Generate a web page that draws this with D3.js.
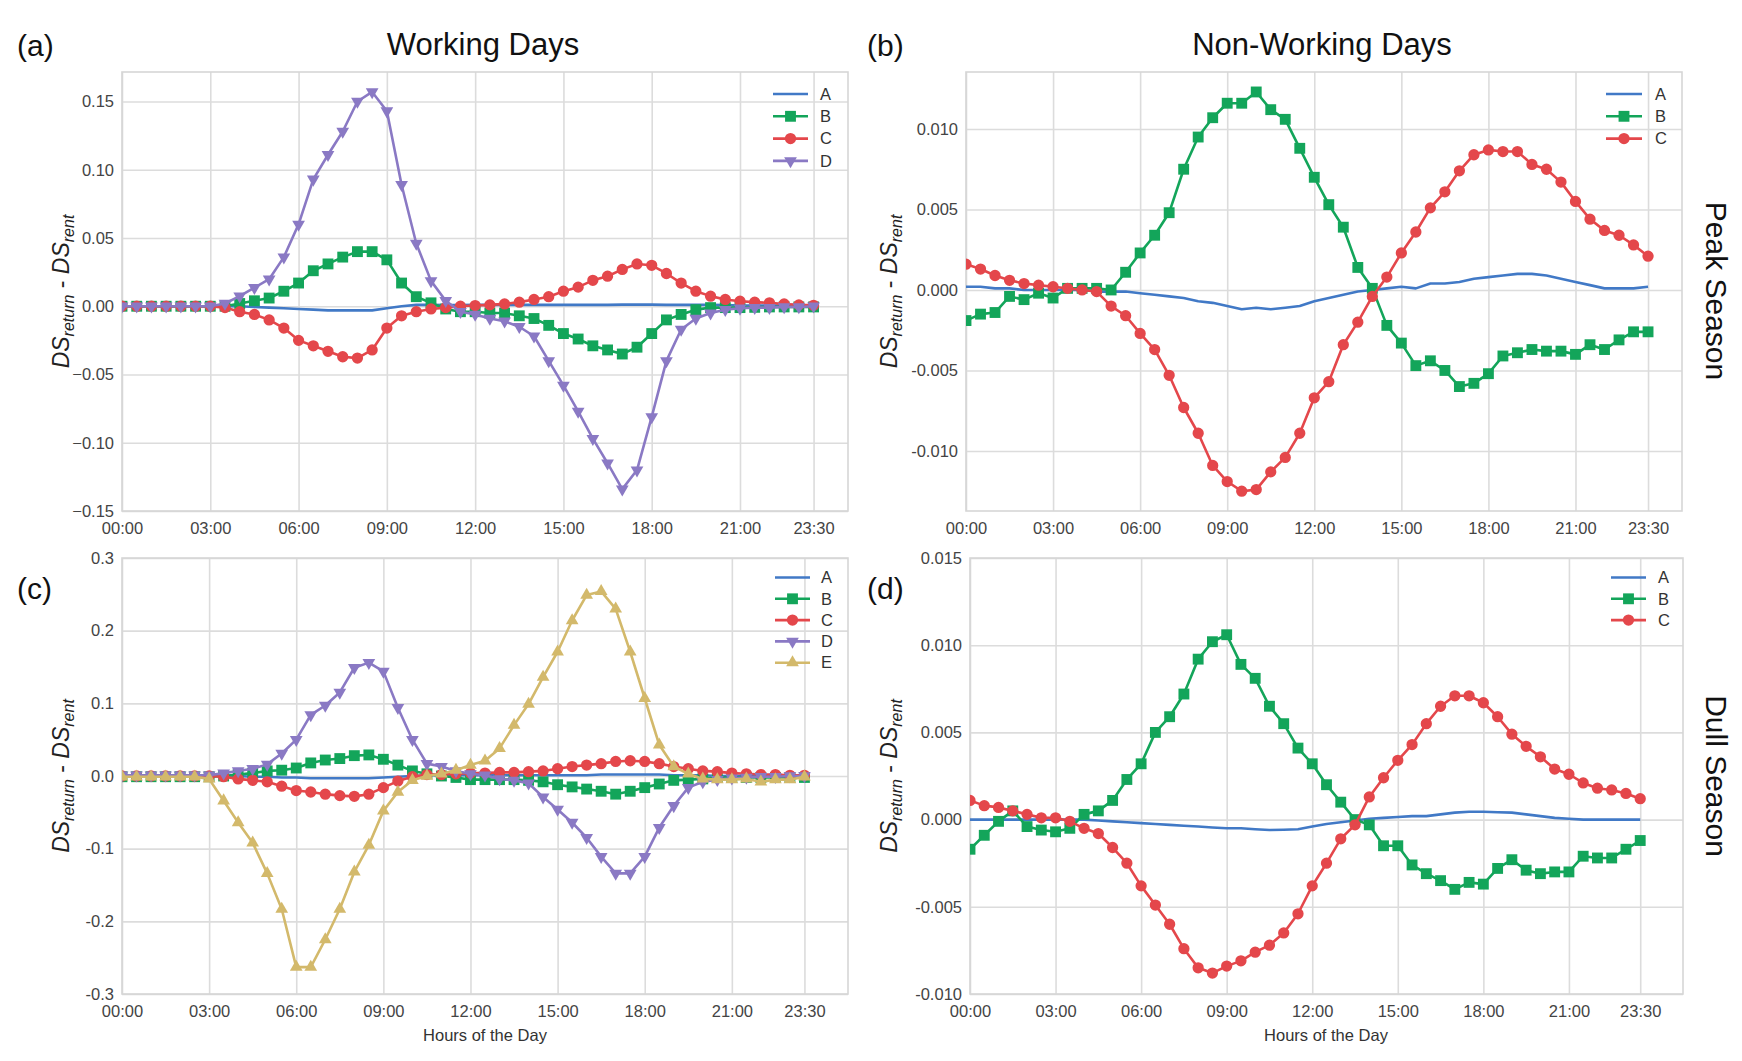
<!DOCTYPE html>
<html>
<head>
<meta charset="utf-8">
<script src="https://cdn.jsdelivr.net/npm/d3@7"></script>
<style>
  body { margin: 0; background: #fff; }
  svg { display: block; font-family: "Liberation Sans", Arial, sans-serif; }
  .axis text { font-family: "Liberation Sans", Arial, sans-serif; font-size: 16.5px; fill: #444; }
  .axis line { stroke: #dcdcdc; stroke-width: 1.6; }
  .axis .domain { display: none; }
</style>
</head>
<body>
<svg id="chart"></svg>
<script>
// Half-hour time slots of the day (in hours)
const hours = [0, 0.5, 1, 1.5, 2, 2.5, 3, 3.5, 4, 4.5, 5, 5.5, 6, 6.5, 7, 7.5, 8, 8.5, 9, 9.5,
  10, 10.5, 11, 11.5, 12, 12.5, 13, 13.5, 14, 14.5, 15, 15.5, 16, 16.5, 17, 17.5, 18, 18.5, 19, 19.5,
  20, 20.5, 21, 21.5, 22, 22.5, 23, 23.5];
const xTickHours = [0, 3, 6, 9, 12, 15, 18, 21, 23.5];
const xTickLabels = ['00:00', '03:00', '06:00', '09:00', '12:00', '15:00', '18:00', '21:00', '23:30'];

// (a) Working days, peak season
const aA = [0, 0, 0, 0, 0, 0, 0, 0, 0, -0.0005, -0.001, -0.0015, -0.002, -0.0025, -0.003, -0.003, -0.003, -0.003, -0.0015, 0,
  0.001, 0.001, 0.0008, 0.0008, 0.001, 0.001, 0.001, 0.001, 0.001, 0.001, 0.001, 0.001, 0.001, 0.001, 0.0012, 0.0012, 0.0012, 0.001, 0.001, 0.001,
  0.001, 0.0008, 0.0005, 0.0005, 0.0005, 0.0005, 0.0005, 0.0005];
const aB = [0, 0, 0, 0, 0, 0, 0, 0, 0.002, 0.004, 0.006, 0.011, 0.017, 0.026, 0.031, 0.036, 0.040, 0.040, 0.034, 0.017,
  0.007, 0.0025, -0.002, -0.004, -0.004, -0.005, -0.005, -0.007, -0.009, -0.014, -0.020, -0.024, -0.029, -0.032, -0.035, -0.030, -0.020, -0.010, -0.006, -0.0025,
  -0.001, -0.001, -0.001, -0.0008, -0.0005, -0.0005, -0.0005, -0.0005];
const aC = [0, 0, 0, 0, 0, 0, 0, -0.001, -0.004, -0.006, -0.010, -0.016, -0.025, -0.029, -0.033, -0.037, -0.038, -0.032, -0.016, -0.007,
  -0.004, -0.002, -0.001, 0, 0.0005, 0.001, 0.0017, 0.003, 0.005, 0.007, 0.011, 0.014, 0.019, 0.022, 0.027, 0.031, 0.030, 0.024, 0.017, 0.011,
  0.0074, 0.005, 0.0037, 0.003, 0.0025, 0.0017, 0.001, 0.0007];
const aD = [0, 0, 0, 0, 0, 0, 0, 0.002, 0.0074, 0.0136, 0.0198, 0.036, 0.060, 0.093, 0.111, 0.128, 0.150, 0.157, 0.143, 0.089,
  0.046, 0.0186, 0.004, -0.004, -0.006, -0.009, -0.011, -0.015, -0.022, -0.040, -0.058, -0.077, -0.097, -0.115, -0.134, -0.120, -0.081, -0.040, -0.017, -0.009,
  -0.005, -0.0025, -0.0015, -0.001, -0.001, -0.0005, -0.0005, 0];

// (b) Non-working days, peak season
const bA = [0.0002, 0.0002, 0.0001, 0.0001, 0, 0, 0, 0, 0, -0.0001, -0.0001, -0.0001, -0.0002, -0.0003, -0.0004, -0.0005, -0.0007, -0.0008, -0.0010, -0.0012,
  -0.0011, -0.0012, -0.0011, -0.0010, -0.0007, -0.0005, -0.0003, -0.0001, 0, 0.0001, 0.0002, 0.0001, 0.0004, 0.0004, 0.0005, 0.0007, 0.0008, 0.0009, 0.0010, 0.0010,
  0.0009, 0.0007, 0.0005, 0.0003, 0.0001, 0.0001, 0.0001, 0.0002];
const bB = [-0.0019, -0.0015, -0.0014, -0.0004, -0.0006, -0.0002, -0.0005, 0.0001, 0.0001, 0.0001, 0.0000, 0.0011, 0.0023, 0.0034, 0.0048, 0.0075, 0.0095, 0.0107, 0.0116, 0.0116,
  0.0123, 0.0112, 0.0106, 0.0088, 0.0070, 0.0053, 0.0039, 0.0014, 0.0001, -0.0022, -0.0033, -0.0047, -0.0044, -0.0050, -0.0060, -0.0058, -0.0052, -0.0041, -0.0039, -0.0037,
  -0.0038, -0.0038, -0.0040, -0.0034, -0.0037, -0.0031, -0.0026, -0.0026];
const bC = [0.0016, 0.0013, 0.0009, 0.0006, 0.0004, 0.0003, 0.0002, 0.0001, 0.0000, -0.0001, -0.0010, -0.0016, -0.0027, -0.0037, -0.0053, -0.0073, -0.0089, -0.0109, -0.0119, -0.0125,
  -0.0124, -0.0113, -0.0104, -0.0089, -0.0067, -0.0057, -0.0034, -0.0020, -0.0004, 0.0008, 0.0023, 0.0036, 0.0051, 0.0061, 0.0074, 0.0084, 0.0087, 0.0086, 0.0086, 0.0078,
  0.0075, 0.0067, 0.0055, 0.0044, 0.0037, 0.0034, 0.0028, 0.0021];

// (c) Working days, dull season
const cA = [0, 0, 0, 0, 0, 0, 0, 0, 0, -0.001, -0.001, -0.002, -0.002, -0.003, -0.003, -0.003, -0.003, -0.003, -0.002, -0.001,
  0, 0.001, 0.001, 0.001, 0.001, 0.001, 0.001, 0.001, 0.001, 0.001, 0.001, 0.001, 0.001, 0.002, 0.002, 0.002, 0.002, 0.002, 0.001, 0.001,
  0.001, 0, 0, 0, 0, 0, 0, 0];
const cB = [-0.001, -0.001, -0.001, -0.001, -0.001, -0.001, -0.001, 0, 0.002, 0.004, 0.007, 0.008, 0.011, 0.018, 0.022, 0.024, 0.028, 0.029, 0.023, 0.015,
  0.007, 0.003, 0, -0.002, -0.005, -0.005, -0.005, -0.005, -0.006, -0.008, -0.012, -0.015, -0.018, -0.021, -0.025, -0.021, -0.016, -0.011, -0.006, -0.005,
  -0.004, -0.002, -0.002, -0.002, -0.002, -0.002, -0.002, -0.002];
const cC = [0, 0, 0, 0, 0, 0, 0, -0.001, -0.004, -0.006, -0.008, -0.014, -0.020, -0.022, -0.025, -0.027, -0.028, -0.025, -0.016, -0.007,
  -0.001, 0.002, 0.002, 0.003, 0.004, 0.004, 0.005, 0.005, 0.006, 0.007, 0.010, 0.013, 0.015, 0.017, 0.020, 0.021, 0.020, 0.017, 0.013, 0.010,
  0.007, 0.006, 0.004, 0.003, 0.002, 0.002, 0.001, 0.001];
const cD = [0.001, 0.001, 0.001, 0.001, 0.001, 0.001, 0.001, 0.004, 0.007, 0.010, 0.016, 0.031, 0.050, 0.084, 0.097, 0.115, 0.149, 0.156, 0.144, 0.094,
  0.050, 0.017, 0.013, 0.007, 0.003, 0.001, -0.004, -0.006, -0.010, -0.029, -0.046, -0.064, -0.085, -0.111, -0.134, -0.134, -0.111, -0.071, -0.041, -0.016,
  -0.008, -0.005, -0.003, -0.002, -0.001, -0.001, 0, 0];
const cE = [-0.001, -0.001, -0.001, -0.001, -0.001, -0.001, -0.004, -0.034, -0.064, -0.092, -0.134, -0.183, -0.263, -0.263, -0.225, -0.183, -0.132, -0.095, -0.048, -0.022,
  -0.006, 0.000, 0.003, 0.008, 0.015, 0.021, 0.038, 0.070, 0.099, 0.136, 0.171, 0.214, 0.249, 0.254, 0.230, 0.171, 0.107, 0.043, 0.013, 0.003,
  -0.004, -0.005, -0.005, -0.004, -0.008, -0.005, -0.005, -0.001];

// (d) Non-working days, dull season
const dA = [0, 0, 0, 0, 0, 0, 0, 0, 0, -0.00005, -0.0001, -0.00015, -0.0002, -0.00025, -0.0003, -0.00035, -0.0004, -0.00045, -0.0005, -0.0005,
  -0.00055, -0.0006, -0.00058, -0.00055, -0.0004, -0.00025, -0.00015, -0.00005, 0.00005, 0.0001, 0.00015, 0.0002, 0.0002, 0.0003, 0.0004, 0.00045, 0.00045, 0.00042, 0.0004, 0.0003,
  0.0002, 0.0001, 0.00005, 0, 0, 0, 0, 0];
const dB = [-0.0017, -0.0009, -0.0001, 0.0005, -0.0004, -0.0006, -0.0007, -0.0005, 0.0003, 0.0005, 0.0011, 0.0023, 0.0032, 0.0050, 0.0059, 0.0072, 0.0092, 0.0102, 0.0106, 0.0089,
  0.0081, 0.0065, 0.0055, 0.0041, 0.0032, 0.0020, 0.0010, 0.0000, -0.0003, -0.0015, -0.0015, -0.0026, -0.0031, -0.0035, -0.0040, -0.0036, -0.0037, -0.0028, -0.0023, -0.0029,
  -0.0031, -0.0030, -0.0030, -0.0021, -0.0022, -0.0022, -0.0017, -0.0012];
const dC = [0.0011, 0.0008, 0.0007, 0.0005, 0.0003, 0.0001, 0.0001, -0.0001, -0.0005, -0.0008, -0.0016, -0.0025, -0.0038, -0.0049, -0.0060, -0.0074, -0.0085, -0.0088, -0.0084, -0.0081,
  -0.0076, -0.0072, -0.0065, -0.0054, -0.0038, -0.0025, -0.0011, -0.0003, 0.0013, 0.0024, 0.0034, 0.0043, 0.0055, 0.0065, 0.0071, 0.0071, 0.0067, 0.0059, 0.0049, 0.0042,
  0.0036, 0.0029, 0.0026, 0.0021, 0.0018, 0.0017, 0.0015, 0.0012];

// y tick values per panel
const yTicksA = [-0.15, -0.10, -0.05, 0, 0.05, 0.10, 0.15];
const yTicksB = [-0.010, -0.005, 0, 0.005, 0.010];
const yTicksC = [-0.3, -0.2, -0.1, 0, 0.1, 0.2, 0.3];
const yTicksD = [-0.010, -0.005, 0, 0.005, 0.010, 0.015];

// Series styling
const style = {
  A: { color: '#4179c6', marker: null },
  B: { color: '#13a55a', marker: 'square' },
  C: { color: '#e4474b', marker: 'circle' },
  D: { color: '#8a79c4', marker: 'down' },
  E: { color: '#d3b96b', marker: 'up' }
};

const W = 1742, H = 1061;
const svg = d3.select('#chart').attr('width', W).attr('height', H);
svg.append('rect').attr('width', W).attr('height', H).attr('fill', '#fff');

const hyphen = f => d => f(d).replace('\u2212', '-');

const panels = [
  { id: 'a', left: 122, right: 848, top: 72, bottom: 511, xMax: 24.67, yDomain: [-0.15, 0.1716],
    yTicks: yTicksA, fmt: d3.format('.2f'), series: { A: aA, B: aB, C: aC, D: aD }, ylabelX: 61,
    legend: { x1: 773, x2: 808, tx: 820, y0: 94, dy: 22.3 } },
  { id: 'b', left: 966, right: 1682, top: 72, bottom: 511, xMax: 24.67, yDomain: [-0.01373, 0.01354],
    yTicks: yTicksB, fmt: hyphen(d3.format('.3f')), series: { A: bA, B: bB, C: bC }, ylabelX: 889,
    legend: { x1: 1606, x2: 1642, tx: 1655, y0: 94, dy: 22.3 } },
  { id: 'c', left: 122, right: 848, top: 558, bottom: 994, xMax: 25, yDomain: [-0.3, 0.3],
    yTicks: yTicksC, fmt: hyphen(d3.format('.1f')), series: { A: cA, B: cB, C: cC, D: cD, E: cE }, ylabelX: 61,
    legend: { x1: 775, x2: 810, tx: 821, y0: 577.5, dy: 21.3 } },
  { id: 'd', left: 970, right: 1683, top: 558, bottom: 994, xMax: 25, yDomain: [-0.010, 0.015],
    yTicks: yTicksD, fmt: hyphen(d3.format('.3f')), series: { A: dA, B: dB, C: dC }, ylabelX: 889,
    legend: { x1: 1611, x2: 1646, tx: 1658, y0: 577.5, dy: 21.3 } }
];

function symbolPath(kind) {
  if (kind === 'square') return d3.symbol(d3.symbolSquare, 118)();
  if (kind === 'circle') return d3.symbol(d3.symbolCircle, 100)();
  return d3.symbol(d3.symbolTriangle, 70)();
}
function markerTransform(kind, px, py) {
  return kind === 'down' ? `translate(${px},${py}) rotate(180)` : `translate(${px},${py})`;
}

function drawPanel(p) {
  const w = p.right - p.left, h = p.bottom - p.top;
  const g = svg.append('g').attr('transform', `translate(${p.left},${p.top})`);
  const x = d3.scaleLinear().domain([0, p.xMax]).range([0, w]);
  const y = d3.scaleLinear().domain(p.yDomain).range([h, 0]);

  // Grid and tick labels
  g.append('g').attr('class', 'axis')
    .attr('transform', `translate(0,${h})`)
    .call(d3.axisBottom(x).tickValues(xTickHours).tickFormat((d, i) => xTickLabels[i]).tickSize(-h).tickPadding(11));
  g.append('g').attr('class', 'axis')
    .call(d3.axisLeft(y).tickValues(p.yTicks).tickFormat(p.fmt).tickSize(-w).tickPadding(8));

  // Frame
  g.append('rect').attr('width', w).attr('height', h)
    .attr('fill', 'none').attr('stroke', '#d6d6d6').attr('stroke-width', 1.6);

  // Clip
  svg.append('clipPath').attr('id', 'clip-' + p.id)
    .append('rect').attr('width', w).attr('height', h);
  const plot = g.append('g').attr('clip-path', `url(#clip-${p.id})`);

  const line = d3.line().x((d, i) => x(hours[i])).y(d => y(d));

  Object.entries(p.series).forEach(([name, vals]) => {
    const s = style[name];
    plot.append('path').datum(vals)
      .attr('d', line)
      .attr('fill', 'none')
      .attr('stroke', s.color)
      .attr('stroke-width', 2.6)
      .attr('stroke-linejoin', 'round');
    if (s.marker) {
      plot.selectAll(null).data(vals).enter().append('path')
        .attr('d', symbolPath(s.marker))
        .attr('transform', (d, i) => markerTransform(s.marker, x(hours[i]), y(d)))
        .attr('fill', s.color);
    }
  });

  // Legend (no frame)
  const L = p.legend;
  Object.keys(p.series).forEach((name, i) => {
    const s = style[name];
    const ly = L.y0 + i * L.dy;
    svg.append('line').attr('x1', L.x1).attr('x2', L.x2).attr('y1', ly).attr('y2', ly)
      .attr('stroke', s.color).attr('stroke-width', 2.6);
    if (s.marker) {
      svg.append('path').attr('d', symbolPath(s.marker))
        .attr('transform', markerTransform(s.marker, (L.x1 + L.x2) / 2, ly))
        .attr('fill', s.color);
    }
    svg.append('text').attr('x', L.tx).attr('y', ly).attr('dy', '0.35em')
      .attr('font-size', 16.5).attr('fill', '#333').text(name);
  });

  // y-axis label: DS_return - DS_rent
  const yl = svg.append('text')
    .attr('transform', `translate(${p.ylabelX},${(p.top + p.bottom) / 2}) rotate(-90)`)
    .attr('text-anchor', 'middle').attr('dy', '0.35em')
    .attr('font-size', 23).attr('fill', '#222');
  yl.append('tspan').attr('font-style', 'italic').text('DS');
  yl.append('tspan').attr('font-style', 'italic').attr('font-size', 16).attr('dy', 5).text('return');
  yl.append('tspan').attr('dy', -5).text(' - ');
  yl.append('tspan').attr('font-style', 'italic').text('DS');
  yl.append('tspan').attr('font-style', 'italic').attr('font-size', 16).attr('dy', 5).text('rent');
}

panels.forEach(drawPanel);

// Panel letters
[['(a)', 17, 56], ['(b)', 867, 56], ['(c)', 17, 599], ['(d)', 867, 599]].forEach(([t, tx, ty]) => {
  svg.append('text').attr('x', tx).attr('y', ty).attr('font-size', 30).attr('fill', '#111').text(t);
});

// Column titles
svg.append('text').attr('x', 483).attr('y', 55).attr('text-anchor', 'middle')
  .attr('font-size', 31).attr('fill', '#111').text('Working Days');
svg.append('text').attr('x', 1322).attr('y', 55).attr('text-anchor', 'middle')
  .attr('font-size', 31).attr('fill', '#111').text('Non-Working Days');

// Row titles (right side)
svg.append('text').attr('transform', 'translate(1716,291) rotate(90)')
  .attr('text-anchor', 'middle').attr('dy', '0.35em')
  .attr('font-size', 30).attr('fill', '#111').text('Peak Season');
svg.append('text').attr('transform', 'translate(1716,776) rotate(90)')
  .attr('text-anchor', 'middle').attr('dy', '0.35em')
  .attr('font-size', 30).attr('fill', '#111').text('Dull Season');

// x-axis titles (bottom row only)
svg.append('text').attr('x', 485).attr('y', 1041).attr('text-anchor', 'middle')
  .attr('font-size', 16.5).attr('fill', '#333').text('Hours of the Day');
svg.append('text').attr('x', 1326).attr('y', 1041).attr('text-anchor', 'middle')
  .attr('font-size', 16.5).attr('fill', '#333').text('Hours of the Day');
</script>
</body>
</html>
